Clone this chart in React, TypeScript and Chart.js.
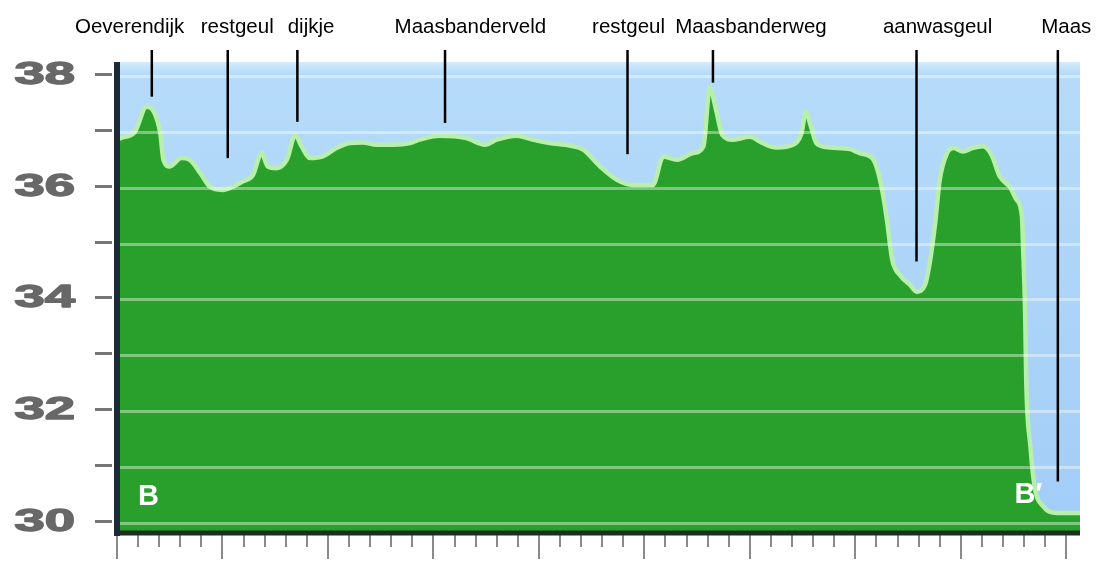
import React, { useEffect, useRef } from 'react';
import { Chart, registerables } from 'chart.js';

Chart.register(...registerables);

// distance along the profile (x units) and elevation (m)
const profileX = [0, 4, 17, 28, 34, 41, 44, 50, 61, 69, 79, 88, 100, 110, 119, 129, 137, 143, 151, 161, 169, 175, 183, 195, 208, 221, 233, 246, 262, 278, 287, 306, 331, 349, 360, 379, 394, 410, 430, 442, 458, 474, 489, 508, 518, 531, 546, 556, 562, 568, 574, 584, 600, 612, 625, 641, 649, 653, 658, 663, 676, 695, 704, 716, 721, 726, 730, 735, 742, 752, 758, 766, 771, 776, 780, 787, 793, 802, 811, 821, 829, 837, 847, 853, 858, 859, 861, 862, 866, 870, 878, 891, 910, 913];
const profileY = [36.86, 36.89, 37.0, 37.45, 37.39, 36.98, 36.5, 36.38, 36.53, 36.5, 36.26, 36.02, 35.96, 36.02, 36.11, 36.23, 36.62, 36.38, 36.35, 36.5, 36.94, 36.74, 36.53, 36.56, 36.71, 36.8, 36.81, 36.77, 36.77, 36.8, 36.86, 36.93, 36.89, 36.77, 36.86, 36.93, 36.86, 36.8, 36.75, 36.68, 36.38, 36.14, 36.05, 36.05, 36.56, 36.5, 36.62, 36.74, 37.79, 37.39, 36.94, 36.86, 36.91, 36.8, 36.72, 36.77, 36.98, 37.36, 37.09, 36.8, 36.72, 36.69, 36.62, 36.53, 36.32, 35.9, 35.42, 34.71, 34.44, 34.26, 34.14, 34.26, 34.71, 35.42, 36.14, 36.62, 36.71, 36.65, 36.71, 36.74, 36.59, 36.2, 36.0, 35.78, 35.48, 34.95, 33.76, 32.56, 31.37, 30.65, 30.3, 30.18, 30.18, 30.18];

const yGridValues = [30, 31, 32, 33, 34, 35, 36, 37, 38];
const yTickValues = [30, 32, 34, 36, 38];
const yTickLabels = ['30', '32', '34', '36', '38'];
const xMajorTicks = [0, 100, 200, 300, 400, 500, 600, 700, 800, 900];
const xMinorTicks = [20, 40, 60, 80, 120, 140, 160, 180, 220, 240, 260, 280, 320, 340, 360, 380, 420, 440, 460, 480, 520, 540, 560, 580, 620, 640, 660, 680, 720, 740, 760, 780, 820, 840, 860, 880];

const annotationLabels = ['Oeverendijk', 'restgeul', 'dijkje', 'Maasbanderveld', 'restgeul', 'Maasbanderweg', 'aanwasgeul', 'Maas'];
const annotationLabelX = [12, 114, 184, 335, 485, 601, 778, 900];
const annotationLineX = [33, 105, 171, 311, 484, 565, 758, 892];
const annotationLineEnd = [37.63, 36.53, 37.18, 37.16, 36.6, 37.88, 34.68, 30.74];

const endLabels = ['B', 'B′'];
const endLabelX = [20, 851];
const endLabelY = [30.33, 30.36];

const decorPlugin = {
  id: 'decor',
  beforeDatasetsDraw(chart: any) {
    const { ctx, chartArea: a } = chart;
    const g = ctx.createLinearGradient(0, a.top, 0, a.bottom);
    g.addColorStop(0, '#d4ebfc');
    g.addColorStop(0.025, '#b6dbfa');
    g.addColorStop(1, '#a2cdf7');
    ctx.save();
    ctx.fillStyle = g;
    ctx.fillRect(a.left, a.top, a.right - a.left, a.bottom - a.top);
    ctx.restore();
  },
  afterDatasetsDraw(chart: any) {
    const { ctx, chartArea: a } = chart;
    const xs = chart.scales.x;
    const ys = chart.scales.y;
    ctx.save();
    // horizontal gridlines over fill
    ctx.strokeStyle = 'rgba(255,255,255,0.4)';
    ctx.lineWidth = 3;
    yGridValues.forEach((v) => {
      const y = Math.round(ys.getPixelForValue(v)) + 0.5;
      ctx.beginPath();
      ctx.moveTo(a.left, y);
      ctx.lineTo(a.right, y);
      ctx.stroke();
    });
    // y tick dashes
    ctx.strokeStyle = '#777777';
    ctx.lineWidth = 3;
    yGridValues.forEach((v) => {
      const y = Math.round(ys.getPixelForValue(v)) - 1.5;
      ctx.beginPath();
      ctx.moveTo(a.left - 22, y);
      ctx.lineTo(a.left - 5, y);
      ctx.stroke();
    });
    // x ticks
    ctx.strokeStyle = '#8a8a8a';
    ctx.lineWidth = 2;
    xMajorTicks.forEach((v) => {
      const x = Math.round(xs.getPixelForValue(v));
      ctx.beginPath();
      ctx.moveTo(x, a.bottom + 2);
      ctx.lineTo(x, a.bottom + 26);
      ctx.stroke();
    });
    xMinorTicks.forEach((v) => {
      const x = Math.round(xs.getPixelForValue(v));
      ctx.beginPath();
      ctx.moveTo(x, a.bottom + 2);
      ctx.lineTo(x, a.bottom + 14);
      ctx.stroke();
    });
    // bottom axis line
    ctx.strokeStyle = '#1b3020';
    ctx.lineWidth = 5;
    ctx.beginPath();
    ctx.moveTo(a.left, a.bottom);
    ctx.lineTo(a.right, a.bottom);
    ctx.stroke();
    // left axis line
    ctx.strokeStyle = '#1d2a38';
    ctx.lineWidth = 6;
    ctx.beginPath();
    ctx.moveTo(a.left, a.top);
    ctx.lineTo(a.left, a.bottom + 3);
    ctx.stroke();
    // y labels (wide heavy bold)
    ctx.fillStyle = '#686868';
    ctx.strokeStyle = '#686868';
    ctx.lineWidth = 1.4;
    ctx.lineJoin = 'round';
    ctx.font = 'bold 32px "Liberation Sans", Arial, sans-serif';
    ctx.textAlign = 'right';
    ctx.textBaseline = 'middle';
    yTickValues.forEach((v, i) => {
      const y = ys.getPixelForValue(v) - 1;
      ctx.save();
      ctx.translate(a.left - 42, y);
      ctx.scale(1.7, 1);
      ctx.fillText(yTickLabels[i], 0, 0);
      ctx.strokeText(yTickLabels[i], 0, 0);
      ctx.restore();
    });
    // annotations
    ctx.strokeStyle = '#000000';
    ctx.lineWidth = 2.5;
    annotationLineX.forEach((v, i) => {
      const x = xs.getPixelForValue(v);
      ctx.beginPath();
      ctx.moveTo(x, 50);
      ctx.lineTo(x, ys.getPixelForValue(annotationLineEnd[i]));
      ctx.stroke();
    });
    ctx.fillStyle = '#000000';
    ctx.font = '20.5px "Liberation Sans", Arial, sans-serif';
    ctx.textAlign = 'center';
    ctx.textBaseline = 'alphabetic';
    annotationLabels.forEach((t, i) => {
      ctx.fillText(t, xs.getPixelForValue(annotationLabelX[i]), 33);
    });
    // B / B' labels
    ctx.fillStyle = '#ffffff';
    ctx.font = 'bold 29px "Liberation Sans", Arial, sans-serif';
    ctx.textAlign = 'left';
    endLabels.forEach((t, i) => {
      ctx.fillText(t, xs.getPixelForValue(endLabelX[i]), ys.getPixelForValue(endLabelY[i]));
    });
    ctx.restore();
  },
};

export default function App() {
  const ref = useRef<HTMLCanvasElement>(null);
  useEffect(() => {
    const chart = new Chart(ref.current as HTMLCanvasElement, {
      type: 'line',
      data: {
        datasets: [
          {
            data: profileX.map((x, i) => ({ x, y: profileY[i] })),
            borderColor: '#b8efac',
            borderWidth: 4.5,
            backgroundColor: '#28a02b',
            fill: 'start',
            pointRadius: 0,
            cubicInterpolationMode: 'monotone',
          },
        ],
      },
      options: {
        animation: false,
        responsive: false,
        events: [],
        layout: { padding: { left: 117, right: 18, top: 62, bottom: 28 } },
        plugins: { legend: { display: false }, tooltip: { enabled: false } },
        scales: {
          x: { type: 'linear', display: false, min: 0, max: 913 },
          y: { type: 'linear', display: false, min: 29.82, max: 38.25 },
        },
      },
      plugins: [decorPlugin],
    } as any);
    return () => chart.destroy();
  }, []);
  return (
    <div style={{ position: 'fixed', left: 0, top: 0, width: 1098, height: 561, background: '#ffffff' }}>
      <canvas ref={ref} width={1098} height={561} style={{ display: 'block', width: 1098, height: 561 }} />
    </div>
  );
}
